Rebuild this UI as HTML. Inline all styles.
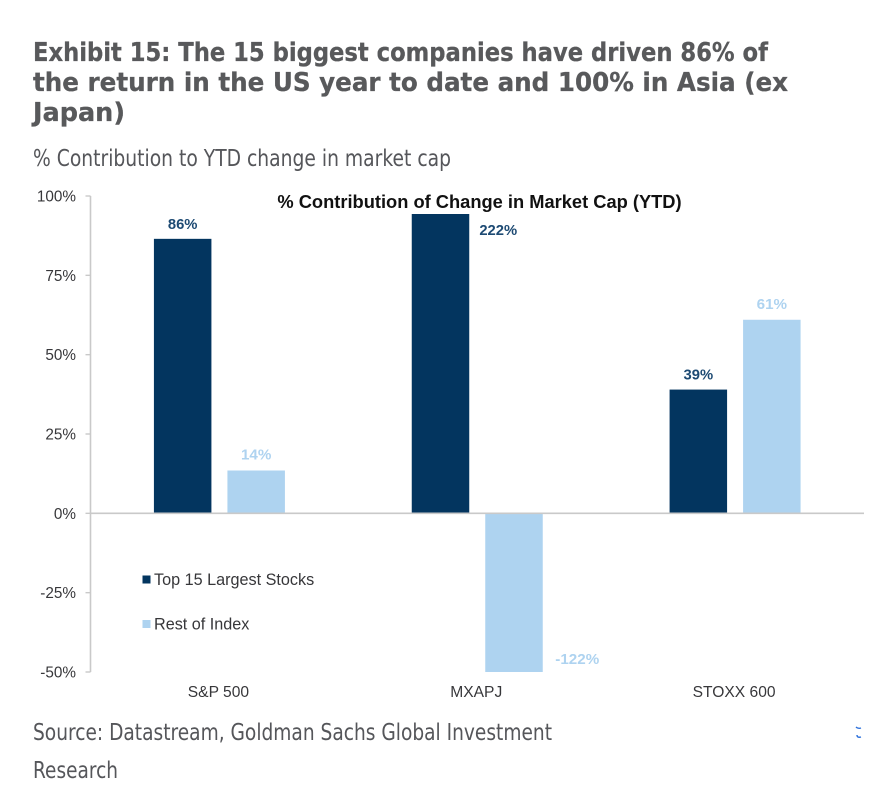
<!DOCTYPE html>
<html lang="en">
<head>
<meta charset="utf-8">
<title>Exhibit 15</title>
<style>
html,body{margin:0;padding:0;background:#fff;width:878px;height:806px;overflow:hidden}
svg{display:block;filter:blur(0.3px)}
.t{font-family:"DejaVu Sans",sans-serif;font-weight:700;font-size:26px;fill:#58595b;stroke:#58595b;stroke-width:.3px}
.s{font-family:"DejaVu Sans",sans-serif;font-size:23px;fill:#55565a}
.c{font-family:"Liberation Sans",sans-serif}
</style>
</head>
<body>
<svg id="chart" xmlns="http://www.w3.org/2000/svg" width="878" height="806" viewBox="0 0 878 806">
<text class="t" x="33" y="61" textLength="735" lengthAdjust="spacingAndGlyphs">Exhibit 15: The 15 biggest companies have driven 86% of</text>
<text class="t" x="33" y="91" textLength="755" lengthAdjust="spacingAndGlyphs">the return in the US year to date and 100% in Asia (ex</text>
<text class="t" x="33" y="121" textLength="92" lengthAdjust="spacingAndGlyphs">Japan)</text>
<text class="s" x="33" y="166" textLength="418" lengthAdjust="spacingAndGlyphs">% Contribution to YTD change in market cap</text>
<g id="plot"></g>
<text class="s" x="33" y="740" textLength="519" lengthAdjust="spacingAndGlyphs">Source: Datastream, Goldman Sachs Global Investment</text>
<text class="s" x="33" y="778" textLength="85" lengthAdjust="spacingAndGlyphs">Research</text>
<path d="M856 727q2 2 5 1M861 737q-4 1-4-2" fill="none" stroke="#2a6fdb" stroke-width="1.4"/>
</svg>
<script>
var categories = ["S&P 500", "MXAPJ", "STOXX 600"];
var seriesNames = ["Top 15 Largest Stocks", "Rest of Index"];
var topValues = [86.5, 222, 39];
var restValues = [13.5, -122, 61];
var topLabels = ["86%", "222%", "39%"];
var restLabels = ["14%", "-122%", "61%"];
var yTicks = [100, 75, 50, 25, 0, -25, -50];

var NS = "http://www.w3.org/2000/svg";
var plot = document.getElementById("plot");
var DARK = "#03355f", LIGHT = "#aed3f0", AXIS = "#c9c9c9", TEXT = "#37373a";
var X0 = 90.5, X1 = 864, Y_TOP = 196, Y_BOT = 672;
var Y_MIN = -50, Y_MAX = 100;
var BAR_W = 57.5, GAP = 16;

function yScale(v) { return Y_BOT - (v - Y_MIN) / (Y_MAX - Y_MIN) * (Y_BOT - Y_TOP); }
function xBand(i) { return X0 + (i + 0.5) * (X1 - X0) / categories.length; }
function clampV(v) { return Math.max(Y_MIN, Math.min(Y_MAX, v)); }

function mk(tag, attrs, txt) {
  var el = document.createElementNS(NS, tag);
  for (var k in attrs) el.setAttribute(k, attrs[k]);
  if (txt !== undefined) el.textContent = txt;
  plot.appendChild(el);
  return el;
}

function drawBar(i, v, color, xLeft, name) {
  var y0 = yScale(0), y1 = yScale(clampV(v));
  var el = mk("rect", { x: xLeft, y: Math.min(y0, y1), width: BAR_W, height: Math.abs(y1 - y0), fill: color });
  
  
}

categories.forEach(function (c, i) {
  var cx = xBand(i);
  drawBar(i, topValues[i], DARK, cx - GAP / 2 - BAR_W, 'bar-top-15-' + i);
  drawBar(i, restValues[i], LIGHT, cx + GAP / 2, 'bar-rest-of-index-' + i);
});

// Chart title sits on a white box that masks the over-range bar
var titleBox = mk("rect", { x: 270, y: 190, width: 420, height: 24, fill: "#fff" });


var chartTitle = mk("text", { x: 479.5, y: 208, "text-anchor": "middle", "class": "c", "font-size": "18.3", "font-weight": "700", fill: "#111" }, "% Contribution of Change in Market Cap (YTD)");



// Axes
var yAxis = mk("line", { x1: X0, x2: X0, y1: Y_TOP, y2: Y_BOT, stroke: AXIS, "stroke-width": 1.6 });


var xAxis = mk("line", { x1: X0, x2: X1, y1: yScale(0), y2: yScale(0), stroke: AXIS, "stroke-width": 1.6 });



yTicks.forEach(function (t) {
  var y = yScale(t);
  var tick = mk("line", { x1: X0 - 5, x2: X0, y1: y, y2: y, stroke: AXIS, "stroke-width": 1.4 });
  
  
  var lab = mk("text", { x: 76, y: y + 5.5, "text-anchor": "end", "class": "c", "font-size": "15.3", fill: TEXT }, t + "%");
  
  
});

categories.forEach(function (c, i) {
  var cx = xBand(i);
  var lab = mk("text", { x: cx - 1, y: 697, "text-anchor": "middle", "class": "c", "font-size": "15.6", fill: TEXT }, c);
  
  

  // Top-15 value label: above the bar, or beside it when the value is over range
  var over = topValues[i] > Y_MAX;
  var tx = over ? cx + GAP / 2 + 13 : cx - GAP / 2 - BAR_W / 2;
  var ty = over ? 235 : yScale(topValues[i]) - 10;
  var a = mk("text", { x: tx, y: ty, "text-anchor": "middle", "class": "c", "font-size": "14.8", "font-weight": "700", fill: "#1d4a73" }, topLabels[i]);
  
  

  // Rest-of-index value label: above the bar, or beside it when under range
  var under = restValues[i] < Y_MIN;
  var rx = under ? cx + GAP / 2 + BAR_W + 34.5 : cx + GAP / 2 + BAR_W / 2;
  var ry = under ? 664 : yScale(restValues[i]) - 11;
  var b = mk("text", { x: rx, y: ry, "text-anchor": "middle", "class": "c", "font-size": "15.2", "font-weight": "700", fill: "#aed3f0" }, restLabels[i]);
  
  
});

// Legend
[DARK, LIGHT].forEach(function (col, i) {
  var y = 579.5 + i * 44.5;
  var sw = mk("rect", { x: 142.5, y: y - 4, width: 8, height: 8, fill: col });
  
  
  var lt = mk("text", { x: 154, y: y + 5.5, "class": "c", "font-size": "16.2", fill: TEXT }, seriesNames[i]);
  
  
});
</script>
</body>
</html>
